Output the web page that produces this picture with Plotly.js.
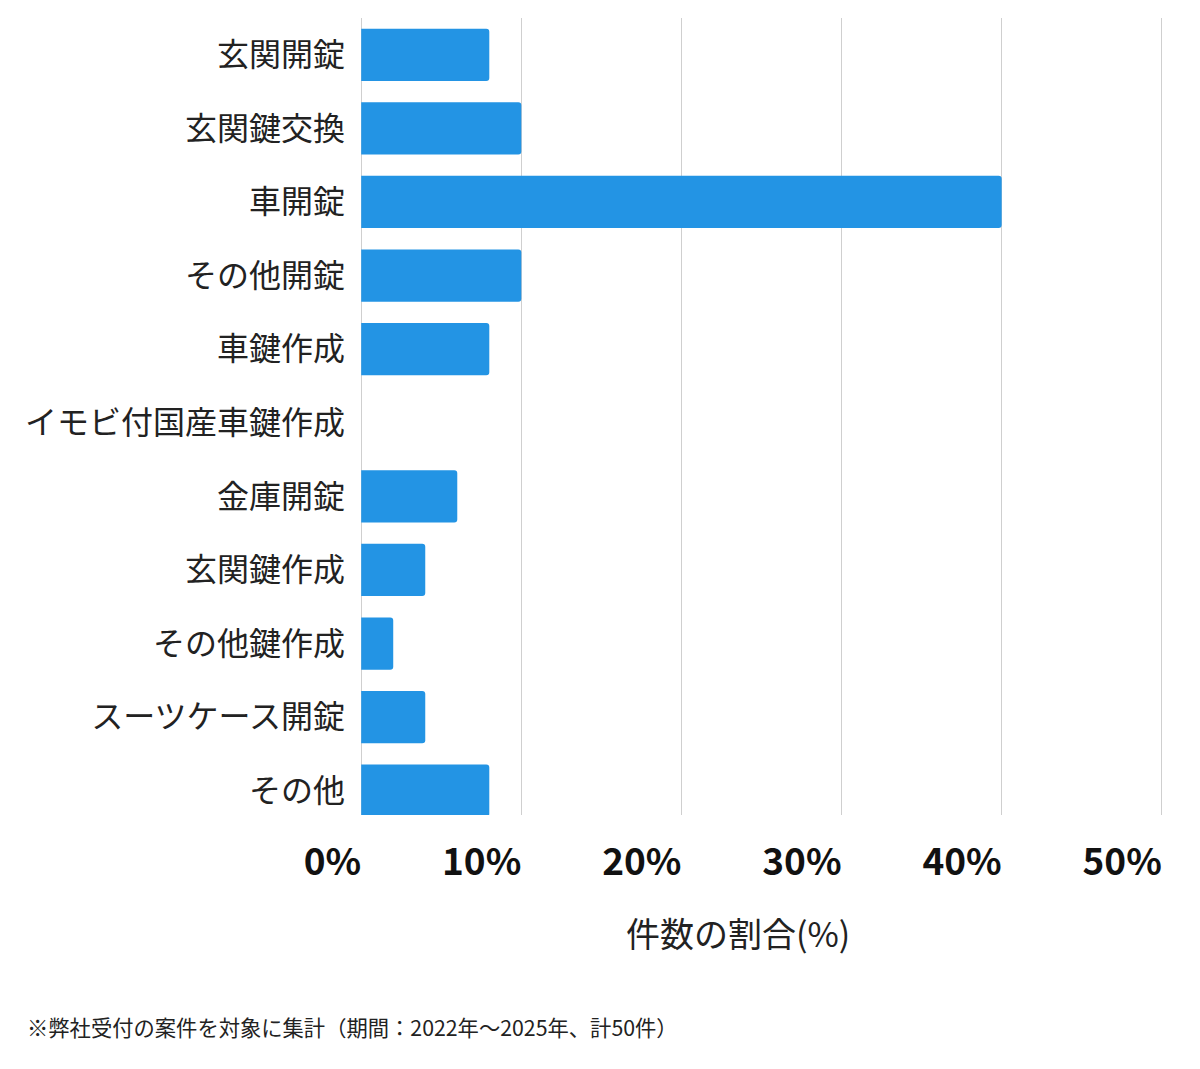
<!DOCTYPE html>
<html>
<head>
<meta charset="utf-8">
<script src="https://cdn.plot.ly/plotly-3.0.1.min.js"></script>
<style>
  html, body { margin: 0; padding: 0; background: #fff; }
  #chart { width: 1200px; height: 1069px; }
</style>
</head>
<body>
<div id="chart"></div>
<script>
// 件数の割合 (計50件)
var categories = ['玄関開錠', '玄関鍵交換', '車開錠', 'その他開錠', '車鍵作成', 'イモビ付国産車鍵作成',
                  '金庫開錠', '玄関鍵作成', 'その他鍵作成', 'スーツケース開錠', 'その他'];
var shares = [8, 10, 40, 10, 8, 0, 6, 4, 2, 4, 8];
var xTicks = [0, 10, 20, 30, 40, 50];
var xTickText = ['0%', '10%', '20%', '30%', '40%', '50%'];
var axisTitle = '件数の割合(%)';
var footnote = '※弊社受付の案件を対象に集計（期間：2022年〜2025年、計50件）';

var font = '"Noto Sans CJK JP", "Noto Sans", sans-serif';

var trace = {
  type: 'bar',
  orientation: 'h',
  y: categories,
  x: shares,
  width: 0.71,
  marker: { color: 'rgb(35,148,228)' },
  hoverinfo: 'none'
};

var layout = {
  width: 1200,
  height: 1069,
  margin: { l: 358, r: 35, t: 18, b: 254 },
  paper_bgcolor: '#fff',
  plot_bgcolor: '#fff',
  showlegend: false,
  barcornerradius: 3,
  font: { family: font, color: '#222' },
  xaxis: {
    range: [-0.2, 50.2],
    tickvals: xTicks,
    ticktext: xTickText,
    ticklabelposition: 'outside left',
    ticklabelstandoff: 22,
    tickfont: { family: font, size: 37, color: '#111', weight: 'bold' },
    showgrid: true,
    gridcolor: '#cfcfcf',
    gridwidth: 1,
    zeroline: false,
    showline: false,
    ticks: ''
  },
  yaxis: {
    type: 'category',
    range: [10.33, -0.5],
    tickfont: { family: font, size: 32, color: '#222' },
    ticklabelstandoff: 12,
    showgrid: false,
    zeroline: false,
    showline: false,
    ticks: ''
  },
  annotations: [
    {
      text: axisTitle,
      xref: 'paper', yref: 'paper',
      x: 0.4709, y: -0.148,
      xanchor: 'center', yanchor: 'middle',
      showarrow: false,
      font: { family: font, size: 34, color: '#222' }
    },
    {
      text: footnote,
      xref: 'paper', yref: 'paper',
      x: -0.4126, y: -0.265,
      xanchor: 'left', yanchor: 'middle',
      showarrow: false,
      font: { family: font, size: 21.3, color: '#222' }
    }
  ]
};

Plotly.newPlot('chart', [trace], layout, { displayModeBar: false, staticPlot: true });
</script>
</body>
</html>
